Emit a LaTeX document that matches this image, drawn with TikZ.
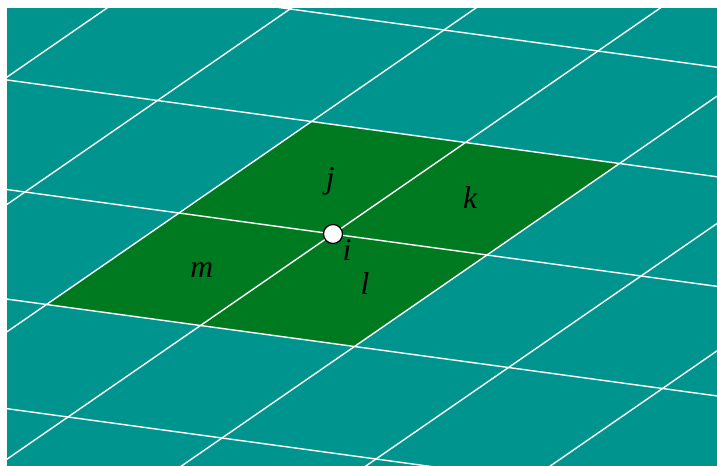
\documentclass[tikz,border=0pt]{standalone}
\usepackage{fontspec}
\setmainfont{Liberation Serif}
\usetikzlibrary{positioning,calc}
\definecolor{floorteal}{RGB}{0,148,143}
\definecolor{patchgreen}{RGB}{0,122,32}
\tikzset{
    gridline/.style = {draw=white, line width=0.8pt},
    patch/.style = {fill=patchgreen},
    vertex/.style = {draw=black, fill=white, circle, line width=0.7pt, inner sep=0pt, minimum size=0.38cm},
    lbl/.style = {font=\fontsize{18}{20}\selectfont\itshape, inner sep=0pt},
}

\begin{document}
\begin{tikzpicture}[
    x={(3.08cm,-0.42cm)}, y={(2.65cm,1.83cm)}
]

% Page and floor
\useasboundingbox (-6.66cm,4.68cm) rectangle (7.68cm,-4.64cm);
\fill[white] (-6.66cm,4.68cm) rectangle (7.68cm,-4.64cm);
\fill[floorteal] (-6.52cm,4.52cm) rectangle (7.68cm,-4.64cm);

% Shaded 2x2 patch round vertex i
\fill[patch] (-1,-1) -- (1,-1) -- (1,1) -- (-1,1) -- cycle;

% Grid lines (both families)
\begin{scope}
    \clip (-6.52cm,4.52cm) rectangle (7.68cm,-4.64cm);
    \foreach \b in {-3,...,3}
        \draw[gridline] (-6,\b) -- (6,\b);
    \foreach \a in {-4,...,4}
        \draw[gridline] (\a,-6) -- (\a,6);
\end{scope}

% Vertex and cell labels
\node[vertex] (vi) at (0,0) {};
\node[lbl] (li) at ($(vi)+(0.28cm,-0.32cm)$) {i};
\node[lbl] (cj) at (-0.43,0.48) {j};
\node[lbl] (ck) at (0.46,0.50) {k};
\node[lbl] (cl) at (0.56,-0.41) {l};
\node[lbl] (cm) at (-0.43,-0.49) {m};

\end{tikzpicture}
\end{document}
